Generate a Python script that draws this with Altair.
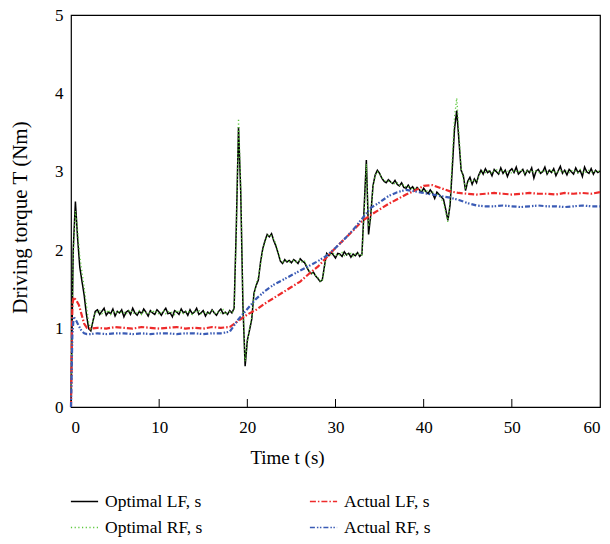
import altair as alt
import pandas as pd

STEP = 0.25  # sampling step of the optimal torque traces (s)

# Optimal LF torque (black), sampled every 0.25 s from 0 to 60 s
opt_lf = [
    0.0, 2.0, 2.62, 2.15, 1.78, 1.6, 1.42, 1.18, 1.0, 0.97, 1.1, 1.22,
    1.24, 1.18, 1.22, 1.26, 1.17, 1.21, 1.19, 1.25, 1.16, 1.22,
    1.2, 1.24, 1.15, 1.21, 1.23, 1.18, 1.26, 1.2, 1.17, 1.22,
    1.19, 1.25, 1.21, 1.16, 1.23, 1.2, 1.18, 1.24, 1.21, 1.17,
    1.22, 1.26, 1.19, 1.2, 1.15, 1.23, 1.21, 1.18, 1.25, 1.2,
    1.22, 1.17, 1.24, 1.19, 1.21, 1.26, 1.18, 1.2, 1.23, 1.16,
    1.21, 1.19, 1.24, 1.2, 1.17, 1.22, 1.25, 1.19, 1.21, 1.18,
    1.23, 1.2, 1.26,
    2.3, 3.57, 2.75, 1.3, 0.52, 0.85, 0.98, 1.12, 1.45, 1.55,
    1.62, 1.85, 2.02, 2.12, 2.2, 2.17, 2.21, 2.12, 2.05, 1.96,
    1.86, 1.83,
    1.88, 1.85, 1.87, 1.84, 1.88, 1.86, 1.83, 1.89, 1.86, 1.84,
    1.78, 1.73, 1.7, 1.72, 1.67, 1.64, 1.6, 1.62, 1.8, 1.96,
    1.93, 1.97, 1.94, 1.9, 1.96, 1.95, 1.92, 1.98, 1.94, 1.96,
    1.91, 1.95, 1.93, 1.97, 1.92, 1.95,
    2.55, 3.15, 2.2, 2.45, 2.82, 2.96, 3.02, 2.98, 2.92, 2.88, 2.86, 2.9,
    2.87, 2.85, 2.89, 2.84, 2.82, 2.86, 2.8, 2.79, 2.83, 2.78,
    2.81, 2.76, 2.8, 2.77, 2.74, 2.79, 2.75, 2.72, 2.77, 2.73,
    2.66, 2.74, 2.71, 2.68, 2.65,
    2.52, 2.38, 2.58, 3.05, 3.55, 3.78, 3.4, 3.02,
    2.95, 2.76, 2.88, 2.93, 2.84, 2.91, 2.86, 2.96,
    3.02, 2.97, 3.04, 2.99, 3.01, 2.95, 3.03, 3.0, 2.97, 3.05,
    2.98, 3.02, 2.94, 3.01, 3.04, 2.99, 3.06, 2.97, 3.0, 3.03,
    2.96, 3.02, 2.99, 3.05, 2.92, 3.01, 3.03, 2.98, 3.0, 3.06,
    2.97, 3.02, 2.99, 3.04, 2.95, 3.01, 3.07, 2.98, 3.02, 2.96,
    3.03, 3.0, 2.97, 3.05, 2.99, 3.02, 2.94, 3.06, 3.0, 2.98,
    3.04, 2.97, 3.02, 2.99, 3.01,
]

# Optimal RF torque (green dotted), same sampling
opt_rf = [
    0.0, 1.9, 2.5, 2.25, 1.92, 1.72, 1.52, 1.3, 1.08, 1.0, 1.1, 1.21,
    1.21, 1.23, 1.19, 1.22, 1.2, 1.24, 1.18, 1.21, 1.22, 1.19,
    1.23, 1.2, 1.21, 1.18, 1.22, 1.24, 1.19, 1.21, 1.2, 1.23,
    1.18, 1.22, 1.2, 1.21, 1.19, 1.24, 1.2, 1.22, 1.18, 1.21,
    1.23, 1.19, 1.22, 1.2, 1.21, 1.18, 1.24, 1.2, 1.22, 1.19,
    1.21, 1.23, 1.2, 1.18, 1.22, 1.21, 1.24, 1.19, 1.2, 1.22,
    1.18, 1.21, 1.23, 1.2, 1.19, 1.22, 1.2, 1.24, 1.18, 1.21,
    1.22, 1.2, 1.23,
    2.2, 3.68, 2.85, 1.35, 0.58, 0.82, 1.0, 1.15, 1.42, 1.57,
    1.66, 1.82, 2.0, 2.1, 2.18, 2.2, 2.18, 2.14, 2.08, 1.98,
    1.88, 1.85,
    1.86, 1.87, 1.85, 1.86, 1.87, 1.85, 1.86, 1.88, 1.84, 1.86,
    1.8, 1.74, 1.71, 1.7, 1.68, 1.65, 1.61, 1.6, 1.78, 1.94,
    1.95, 1.94, 1.96, 1.93, 1.95, 1.94, 1.97, 1.93,
    1.95, 1.94, 1.96, 1.92, 1.95, 1.94, 1.96, 1.94,
    2.45, 3.1, 2.3, 2.4, 2.8, 2.95, 3.0, 2.97, 2.93, 2.89, 2.88, 2.88,
    2.86, 2.87, 2.84, 2.86, 2.83, 2.82, 2.84, 2.8, 2.81, 2.8,
    2.78, 2.79, 2.77, 2.79, 2.76, 2.75, 2.77, 2.74, 2.73, 2.75,
    2.7, 2.72, 2.7, 2.66, 2.6,
    2.48, 2.36, 2.65, 3.2, 3.7, 3.94, 3.5, 3.05,
    2.9, 2.8, 2.86, 2.9, 2.87, 2.89, 2.88, 2.94,
    3.0, 3.01, 2.99, 3.02, 3.0, 2.98, 3.01, 3.03, 2.99, 3.0,
    3.02, 2.99, 3.01, 3.0, 2.98, 3.02, 3.01, 2.99, 3.03, 3.0,
    2.98, 3.01, 3.0, 3.02, 2.99, 3.01, 3.0, 2.98, 3.02, 3.01,
    2.99, 3.0, 3.03, 2.98, 3.01, 3.0, 3.02, 2.99, 3.0, 3.01,
    2.98, 3.02, 3.0, 3.01, 2.99, 3.03, 3.0, 2.98, 3.01, 3.02,
    3.0, 2.99, 3.01, 3.0, 3.02,
]

# Actual torques: own time base
t_act = [0, 0.15, 0.3, 0.6, 0.9, 1.2, 1.5, 1.8, 2.2] + list(range(3, 61))

act_lf = [
    0.0, 1.3, 1.4, 1.36, 1.3, 1.18, 1.06, 1.01, 1.0,
    1.01, 1.0, 1.02, 1.01, 1.0, 1.02, 1.01, 1.0, 1.01, 1.02, 1.0, 1.01, 1.0, 1.02, 1.01,
    1.02, 1.1, 1.18, 1.24, 1.32, 1.39, 1.46, 1.53, 1.6, 1.7,
    1.79, 1.91, 2.03, 2.14, 2.25, 2.37, 2.45, 2.52, 2.59, 2.65,
    2.71, 2.76, 2.82, 2.83, 2.79, 2.75, 2.73,
    2.72, 2.71, 2.72, 2.73, 2.72, 2.71, 2.72, 2.73, 2.72, 2.72, 2.71, 2.73, 2.72, 2.73, 2.72, 2.74,
]

act_rf = [
    0.0, 0.9, 1.15, 1.1, 1.03, 0.97, 0.94, 0.93, 0.93,
    0.94, 0.93, 0.94, 0.94, 0.93, 0.94, 0.93, 0.94, 0.94, 0.93, 0.94, 0.94, 0.93, 0.94, 0.94,
    0.96, 1.12, 1.25, 1.38, 1.48, 1.56, 1.62, 1.68, 1.74, 1.8,
    1.86, 1.93, 2.03, 2.14, 2.26, 2.4, 2.54, 2.61, 2.69, 2.74,
    2.77, 2.75, 2.73, 2.71, 2.69, 2.67, 2.64, 2.6, 2.57,
    2.56, 2.56, 2.57, 2.56, 2.55, 2.56, 2.57, 2.56, 2.56, 2.55, 2.56, 2.57, 2.56, 2.56,
]

x_ticks = [0, 10, 20, 30, 40, 50, 60]
y_ticks = [0, 1, 2, 3, 4, 5]
inner_ticks = [10, 20, 30, 40, 50]

names = ["Optimal LF, s", "Optimal RF, s", "Actual LF, s", "Actual RF, s"]
colors = ["#000000", "#5cc83c", "#ee2b2b", "#3a5bb5"]
dashes = [[1, 0], [1.2, 2.5], [6, 2, 1.5, 2], [5, 2, 1.5, 1.5, 1.5, 2]]

t_opt = [round(i * STEP, 2) for i in range(len(opt_lf))]

frames = [
    pd.DataFrame({"t": t_opt, "T": opt_lf, "series": "Optimal LF, s"}),
    pd.DataFrame({"t": t_opt, "T": opt_rf, "series": "Optimal RF, s"}),
    pd.DataFrame({"t": t_act, "T": act_lf, "series": "Actual LF, s"}),
    pd.DataFrame({"t": t_act, "T": act_rf, "series": "Actual RF, s"}),
]
df = pd.concat(frames, ignore_index=True)

FONT = "Liberation Serif"
W, H = 529, 392

xscale = alt.Scale(domain=[0, 60], nice=False)
yscale = alt.Scale(domain=[0, 5], nice=False)
cscale = alt.Scale(domain=names, range=colors)
dscale = alt.Scale(domain=names, range=dashes)

legend = alt.Legend(
    orient="none", legendX=-1, legendY=472, columns=2, columnPadding=103,
    rowPadding=3, symbolType="stroke", symbolSize=740, symbolStrokeWidth=1.6,
    labelFont=FONT, labelFontSize=17.5, labelOffset=6, labelColor="black",
    labelLimit=300,
)

xaxis = alt.Axis(
    values=x_ticks, title="Time t (s)", titleFontSize=19, titleX=216,
    titleY=56, titleBaseline="alphabetic", labelPadding=12, format="d",
)
yaxis = alt.Axis(
    values=y_ticks, title="Driving torque T (Nm)", titleFontSize=21,
    titleX=-45, titleY=202, titleBaseline="alphabetic", labelPadding=8,
    format="d",
)

base = alt.Chart(df)


def layer(name, width):
    return base.transform_filter(alt.datum.series == name).mark_line(
        strokeWidth=width
    ).encode(
        x=alt.X("t:Q", scale=xscale, axis=xaxis),
        y=alt.Y("T:Q", scale=yscale, axis=yaxis),
        color=alt.Color("series:N", scale=cscale, legend=legend, title=None),
        strokeDash=alt.StrokeDash("series:N", scale=dscale, legend=legend, title=None),
    )


ticks = alt.Chart(pd.DataFrame({"t": inner_ticks})).mark_rule(
    color="black", strokeWidth=1
).encode(
    x=alt.X("t:Q", scale=xscale, axis=xaxis),
    y=alt.value(H),
    y2=alt.value(H - 8),
)

chart = alt.layer(
    layer("Optimal LF, s", 1.5),
    layer("Optimal RF, s", 1.3),
    layer("Actual LF, s", 2.2),
    layer("Actual RF, s", 2.2),
    ticks,
).properties(
    width=W, height=H,
    autosize=alt.AutoSizeParams(type="none"),
    padding={"left": 63, "top": 7, "right": 2, "bottom": 134},
).configure_view(
    stroke="black", strokeWidth=1.2
).configure_axis(
    grid=False, domain=False, ticks=False, labelFont=FONT, titleFont=FONT,
    labelFontSize=17, labelColor="black", titleColor="black",
    titleFontWeight="normal",
)

chart.save("out.html", embed_options={"renderer": "svg", "actions": False})
